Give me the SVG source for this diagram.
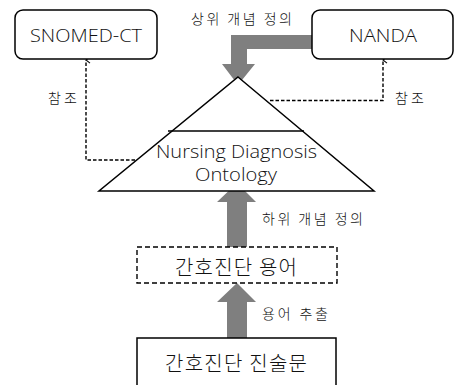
<svg xmlns="http://www.w3.org/2000/svg" width="454" height="385" viewBox="0 0 454 385">
<defs>
<style>
.box{fill:#fff;stroke:#000;stroke-width:1.5}
.dbox{fill:#fff;stroke:#000;stroke-width:1.4;stroke-dasharray:5 3}
.tri{fill:#fff;stroke:#000;stroke-width:1.5}
.dash{fill:none;stroke:#000;stroke-width:1.4;stroke-dasharray:3.5 2}
.fat{fill:#7f7f7f;stroke:none}
.en{font-family:"Open Sans","Liberation Sans",sans-serif;font-weight:300;fill:#111;text-anchor:middle}
.ko{font-family:"Noto Sans CJK KR",sans-serif;font-weight:300;fill:#111;text-anchor:middle;dominant-baseline:central}
</style>
<marker id="open" viewBox="0 0 10 10" refX="5" refY="1" markerWidth="8" markerHeight="8" orient="auto-start-reverse" markerUnits="userSpaceOnUse">
<path d="M1,6 L5,1 L9,6" fill="none" stroke="#000" stroke-width="1.3"/>
</marker>
</defs>
<g id="connectors">
<path class="dash" d="M135,160 H86 V60" marker-end="url(#open)"/>
<path class="dash" d="M270,100.5 H383 V60" marker-end="url(#open)"/>
<path class="fat" d="M312,35 H231 V64 H222 L238,85 L255,64 H247 V49 H312 Z"/>
<path class="fat" d="M227,247 V202 H217 L237,183 L256,202 H247 V247 Z"/>
<path class="fat" d="M227,338 V302 H217 L237,283 L256,302 H247 V338 Z"/>
</g>
<g id="snomed">
<rect class="box" x="15" y="10" width="142" height="49" rx="8"/>
<text class="en" x="86" y="42" font-size="19" textLength="112" lengthAdjust="spacingAndGlyphs">SNOMED-CT</text>
</g>
<g id="nanda">
<rect class="box" x="312" y="10" width="141" height="49" rx="8"/>
<text class="en" x="383" y="42" font-size="19" textLength="68" lengthAdjust="spacingAndGlyphs">NANDA</text>
</g>
<g id="ontology">
<path class="tri" d="M238,77 L374,191 H99 Z"/>
<line x1="168" y1="131" x2="304" y2="131" stroke="#000" stroke-width="1.5"/>
<text class="en" x="236.5" y="157.5" font-size="18" textLength="161" lengthAdjust="spacingAndGlyphs">Nursing Diagnosis</text>
<text class="en" x="236" y="181" font-size="18" textLength="82" lengthAdjust="spacingAndGlyphs">Ontology</text>
</g>
<g id="terms">
<rect class="dbox" x="137" y="247" width="200" height="36"/>
<text class="ko" x="236" y="266" font-size="20" textLength="122" lengthAdjust="spacing">간호진단 용어</text>
</g>
<g id="statement">
<rect class="box" x="137" y="338" width="199" height="60"/>
<text class="ko" x="236" y="362" font-size="20" textLength="142" lengthAdjust="spacing">간호진단 진술문</text>
</g>
<g id="labels">
<text class="ko" x="62.5" y="97" font-size="14" textLength="29" lengthAdjust="spacing">참조</text>
<text class="ko" x="409.5" y="97" font-size="14" textLength="29" lengthAdjust="spacing">참조</text>
<text class="ko" x="241.5" y="18" font-size="14" textLength="101" lengthAdjust="spacing">상위 개념 정의</text>
<text class="ko" x="312.5" y="218" font-size="14" textLength="101" lengthAdjust="spacing">하위 개념 정의</text>
<text class="ko" x="295" y="313" font-size="14" textLength="66" lengthAdjust="spacing">용어 추출</text>
</g>
</svg>
